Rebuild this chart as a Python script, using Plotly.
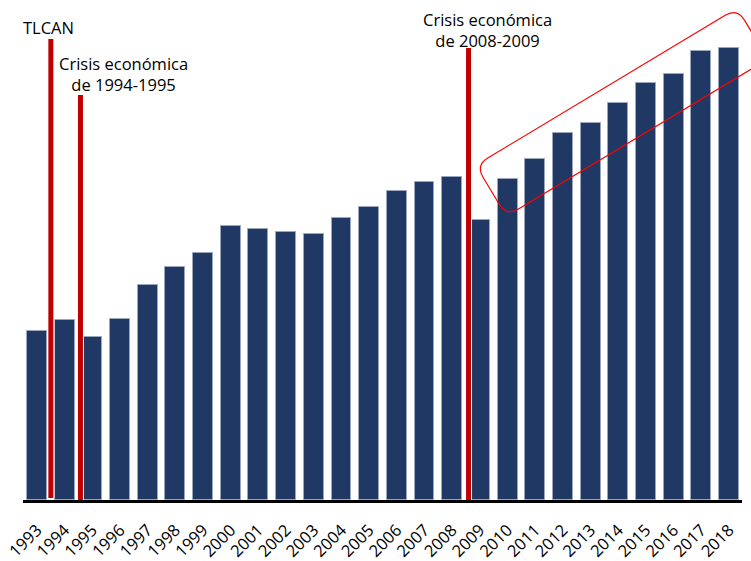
import numpy as np
import plotly.graph_objects as go

# ---- data (relative heights) ----
years = list(range(1993, 2019))
values = [169, 180, 163, 181, 215, 233, 247, 274, 271, 268, 266, 282, 293,
          309, 318, 323, 280, 321, 341, 367, 377, 397, 417, 426, 449, 452]
tick_labels = [str(y) for y in years]

event_x = [1993.5, 1994.57, 2008.59]
event_bottom = [2, -3, 0]
event_top = [461, 405, 452]

note_text = ["TLCAN", "Crisis económica<br>de 1994-1995", "Crisis económica<br>de 2008-2009"]
note_x = [1993.43, 1996.14, 2009.29]
note_y = [473, 426.5, 470.5]

W, H = 751, 561
ML, MR, MT, MB = 23, 9, 0, 61
PW, PH = W - ML - MR, H - MT - MB

BAR = "#1F3864"
RED = "#C00000"
FONT = "Open Sans"

fig = go.Figure()
fig.add_trace(go.Bar(
    x=years, y=values, width=0.72,
    marker=dict(color=BAR, line=dict(color="#9aa6bd", width=1)),
    hoverinfo="x+y",
))

shapes = []
for x, y0, y1 in zip(event_x, event_bottom, event_top):
    shapes.append(dict(type="line", xref="x", yref="y", x0=x, x1=x, y0=y0, y1=y1,
                       line=dict(color="white", width=7), layer="above"))
    shapes.append(dict(type="line", xref="x", yref="y", x0=x, x1=x, y0=y0, y1=y1,
                       line=dict(color=RED, width=5), layer="above"))

# rotated rounded rectangle highlighting 2010-2018 (built in pixel space)
ang = np.deg2rad(31.0)
u = np.array([np.cos(ang), -np.sin(ang)])
n = np.array([np.sin(ang), np.cos(ang)])
p0 = np.array([475.8, 165.2])
L, Wd, r = 305.0, 59.5, 14.0
c_tl = p0
c_tr = p0 + L * u
c_br = c_tr + Wd * n
c_bl = p0 + Wd * n

def to_paper(p):
    return ((p[0] - ML) / PW, 1 - (p[1] - MT) / PH)

def pt(p):
    x, y = to_paper(p)
    return f"{x:.5f},{y:.5f}"

pts = [
    ("M", c_tl + r * u),
    ("L", c_tr - r * u), ("Q", c_tr, c_tr + r * n),
    ("L", c_br - r * n), ("Q", c_br, c_br - r * u),
    ("L", c_bl + r * u), ("Q", c_bl, c_bl - r * n),
    ("L", c_tl + r * n), ("Q", c_tl, c_tl + r * u),
]
path = ""
for item in pts:
    if item[0] == "Q":
        path += f" Q{pt(item[1])} {pt(item[2])}"
    else:
        path += f" {item[0]}{pt(item[1])}"
path += " Z"
shapes.append(dict(type="path", xref="paper", yref="paper", path=path.strip(),
                   line=dict(color="#FF0000", width=1.2), fillcolor="rgba(0,0,0,0)"))

annotations = []
for t, x, y in zip(note_text, note_x, note_y):
    annotations.append(dict(text=t, x=x, y=y, xref="x", yref="y", showarrow=False,
                            font=dict(family=FONT, size=16.5, color="black"),
                            align="center", xanchor="center", yanchor="middle"))

fig.update_layout(
    width=W, height=H,
    margin=dict(l=ML, r=MR, t=MT, b=MB, pad=0, autoexpand=False),
    paper_bgcolor="white", plot_bgcolor="white",
    showlegend=False,
    shapes=shapes, annotations=annotations,
    bargap=0,
    xaxis=dict(range=[1992.494, 2018.47], tickmode="array", tickvals=years,
               ticktext=tick_labels, tickangle=-45, showgrid=False, zeroline=False,
               automargin=False,
               showline=True, linecolor="black", linewidth=3,
               ticks="outside", ticklen=11, tickcolor="rgba(0,0,0,0)",
               tickfont=dict(family=FONT, size=16.5, color="black")),
    yaxis=dict(range=[0, 500], visible=False, showgrid=False, zeroline=False,
               automargin=False),
)

fig.write_html("out.html", config={"displayModeBar": False},
               post_script="document.body.style.margin='0';document.body.style.overflow='hidden';")
